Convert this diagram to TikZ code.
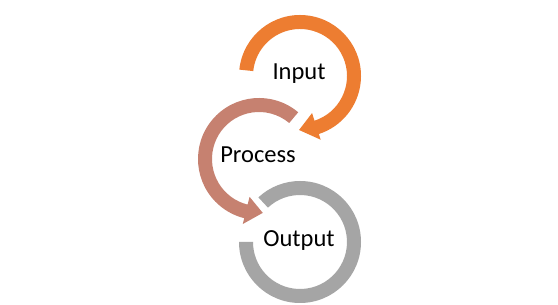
\documentclass[tikz,border=0pt]{standalone}
\usepackage{fontspec}
\setmainfont{Carlito}
\usetikzlibrary{calc}
\definecolor{cOrange}{RGB}{237,125,49}
\definecolor{cProcess}{RGB}{198,129,112}
\definecolor{cGray}{RGB}{165,165,165}
\tikzset{
  lbl/.style={anchor=base, font=\fontsize{24.5}{28}\selectfont, text=black, inner sep=0pt},
}
% #1 colour, #2 centre, #3 start angle, #4 base angle, #5 tip angle
\newcommand\circarrowpath[5]{%
  \fill[#1] ($(#2)+(#3:61)$) arc[start angle=#3, end angle=#4, radius=61]
    -- ($(#2)+(#4:67)$) -- ($(#2)+(#5:54)$) -- ($(#2)+(#4:39)$)
    -- ($(#2)+(#4:47)$) arc[start angle=#4, end angle=#3, radius=47] -- cycle;}
\begin{document}
\begin{tikzpicture}[x=1pt,y=1pt]
\useasboundingbox[fill=white] (0,0) rectangle (558,305);
\coordinate (cin) at (300,229);
\coordinate (cpr) at (259,146);
\coordinate (cout) at (300,63);
% Output ring (gray)
\fill[cGray] ($(cout)+(180:61)$) arc[start angle=180, end angle=493, radius=61]
  -- ($(cout)+(493:47)$) arc[start angle=493, end angle=180, radius=47] -- cycle;
% Process arrow
\circarrowpath{cProcess}{cpr}{50}{256}{274}
% Input arrow
\circarrowpath{cOrange}{cin}{174}{-72}{-91}
\node[lbl] (input) at (299,225) {Input};
\node[lbl] (process) at (258,142) {Process};
\node[lbl] (output) at (299,58) {Output};
\end{tikzpicture}
\end{document}
